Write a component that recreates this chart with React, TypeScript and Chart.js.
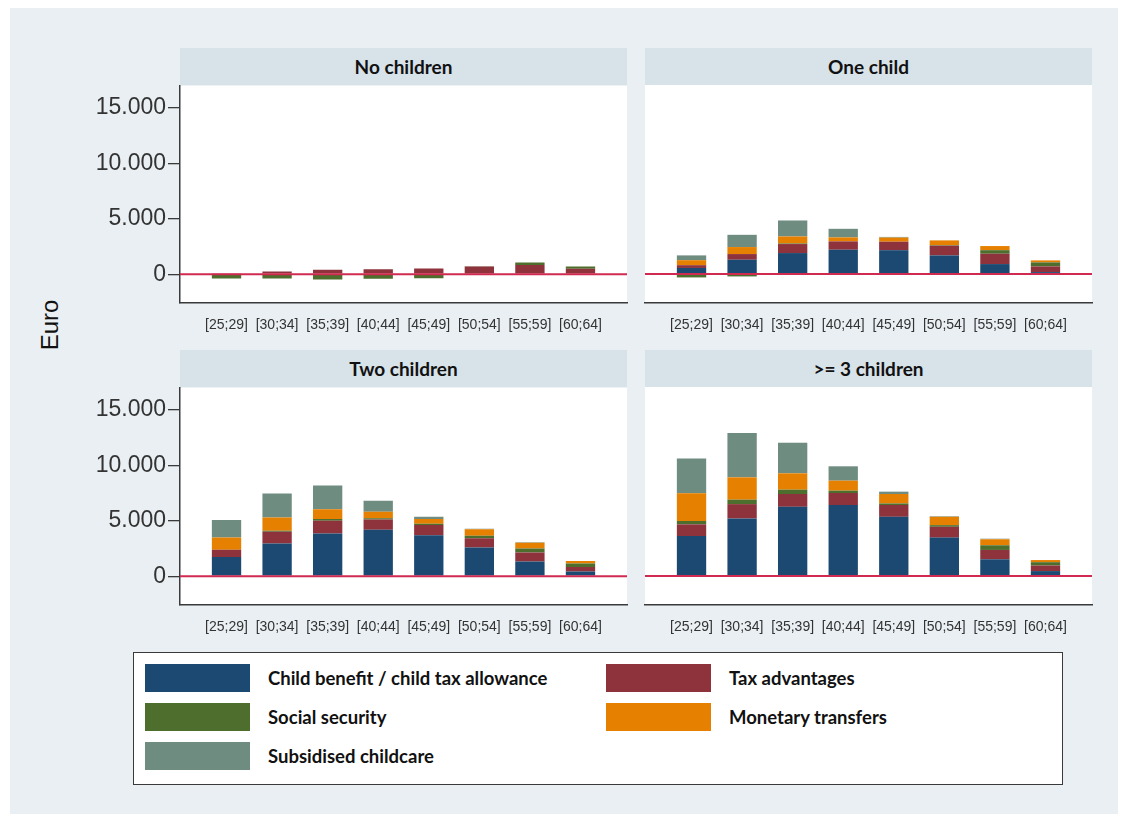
import React, { useEffect, useRef } from "react";
import { Chart, registerables } from "chart.js";

Chart.register(...registerables);

// ---------- data ----------
const AGE_GROUPS = ["[25;29]", "[30;34]", "[35;39]", "[40;44]", "[45;49]", "[50;54]", "[55;59]", "[60;64]"];
const SERIES_NAMES = [
  "Child benefit / child tax allowance",
  "Tax advantages",
  "Social security",
  "Monetary transfers",
  "Subsidised childcare",
];
const SERIES_COLORS = ["#1b4972", "#8e323c", "#4e6e2d", "#e68000", "#6f8c80"];
const Y_TICKS = [0, 5000, 10000, 15000];
const Y_MIN = -2600;
const Y_MAX = 17000;

// No children
const NONE_BENEFIT = [0, 0, 0, 0, 0, 0, 0, 0];
const NONE_TAX = [50, 240, 390, 450, 510, 690, 840, 480];
const NONE_SOCIAL = [-400, -380, -480, -420, -360, 30, 210, 210];
const NONE_MONETARY = [0, 0, 0, 0, 0, 0, 0, 0];
const NONE_CHILDCARE = [0, 0, 0, 0, 0, 0, 0, 0];

// One child
const ONE_BENEFIT = [550, 1290, 1890, 2190, 2150, 1680, 900, 180];
const ONE_TAX = [250, 510, 810, 750, 760, 870, 930, 510];
const ONE_SOCIAL = [-300, -210, 50, 0, 0, 50, 320, 360];
const ONE_MONETARY = [450, 630, 630, 360, 370, 430, 370, 180];
const ONE_CHILDCARE = [430, 1100, 1440, 770, 60, 0, 0, 0];

// Two children
const TWO_BENEFIT = [1740, 2950, 3850, 4180, 3700, 2590, 1320, 420];
const TWO_TAX = [640, 1050, 1150, 940, 930, 840, 820, 420];
const TWO_SOCIAL = [0, 100, 150, 100, 100, 210, 360, 300];
const TWO_MONETARY = [1110, 1200, 900, 590, 420, 600, 510, 240];
const TWO_CHILDCARE = [1570, 2170, 2140, 990, 210, 50, 50, 0];

// >= 3 children
const THREE_BENEFIT = [3600, 5180, 6230, 6390, 5330, 3460, 1510, 450];
const THREE_TAX = [1050, 1290, 1150, 1080, 1060, 970, 840, 500];
const THREE_SOCIAL = [300, 400, 390, 210, 140, 150, 420, 300];
const THREE_MONETARY = [2500, 2010, 1470, 900, 850, 750, 540, 190];
const THREE_CHILDCARE = [3130, 3980, 2750, 1290, 210, 50, 50, 0];

// ---------- layout ----------
const PLOT_W = 447;
const PLOT_H = 218;
const HEADER_H = 37;
const PAD_TOP = 15;
const XAXIS_H = 37;
const AXIS_COLOR = "#3a3a3a";
const SANS = '"Liberation Sans", Arial, sans-serif';
const LABEL_FONT = 'Lato, "Open Sans", sans-serif';

const PANELS = [
  { title: "No children", series: [NONE_BENEFIT, NONE_TAX, NONE_SOCIAL, NONE_MONETARY, NONE_CHILDCARE], plotLeft: 180, plotTop: 85, showY: true },
  { title: "One child", series: [ONE_BENEFIT, ONE_TAX, ONE_SOCIAL, ONE_MONETARY, ONE_CHILDCARE], plotLeft: 645, plotTop: 85, showY: false },
  { title: "Two children", series: [TWO_BENEFIT, TWO_TAX, TWO_SOCIAL, TWO_MONETARY, TWO_CHILDCARE], plotLeft: 180, plotTop: 387, showY: true },
  { title: ">= 3 children", series: [THREE_BENEFIT, THREE_TAX, THREE_SOCIAL, THREE_MONETARY, THREE_CHILDCARE], plotLeft: 645, plotTop: 387, showY: false },
];

const fmt = (v: number) => String(v).replace(/\B(?=(\d{3})+(?!\d))/g, ".");

const decoPlugin = {
  id: "panelDeco",
  beforeDraw(chart: any) {
    const { ctx, chartArea: a } = chart;
    ctx.save();
    ctx.fillStyle = "#ffffff";
    ctx.fillRect(a.left, a.top, a.right - a.left, a.bottom - a.top);
    ctx.restore();
  },
  afterDatasetsDraw(chart: any) {
    const { ctx, chartArea: a } = chart;
    const y = chart.scales.y.getPixelForValue(0);
    ctx.save();
    ctx.strokeStyle = "#d02a50";
    ctx.lineWidth = 2;
    ctx.beginPath();
    ctx.moveTo(a.left, y);
    ctx.lineTo(a.right, y);
    ctx.stroke();
    ctx.restore();
  },
};

function Panel({ title, series, plotLeft, plotTop, showY }: any) {
  const ref = useRef<HTMLCanvasElement>(null);
  const yAxisW = showY ? 160 : 0;
  const padLeft = showY ? 0 : 5;
  const padRight = 3;
  const canvasLeft = plotLeft - yAxisW - padLeft;
  const canvasTop = plotTop - PAD_TOP;
  const canvasW = padLeft + yAxisW + PLOT_W + padRight;
  const canvasH = PAD_TOP + PLOT_H + XAXIS_H;

  useEffect(() => {
    if (!ref.current) return;
    const chart = new Chart(ref.current, {
      type: "bar",
      data: {
        datasets: SERIES_NAMES.map((name, k) => ({
          label: name,
          data: series[k].map((v: number, i: number) => ({ x: i, y: v })),
          backgroundColor: SERIES_COLORS[k],
          borderWidth: 0,
          barPercentage: 0.58,
          categoryPercentage: 1,
          stack: "s",
        })),
      },
      options: {
        animation: false,
        responsive: false,
        layout: { padding: { top: PAD_TOP, left: padLeft, right: padRight, bottom: 0 } },
        plugins: { legend: { display: false }, tooltip: { enabled: false } },
        scales: {
          x: {
            type: "linear",
            min: -0.92,
            max: 7.92,
            offset: false,
            stacked: true,
            afterBuildTicks: (s: any) => {
              s.ticks = AGE_GROUPS.map((_, i) => ({ value: i }));
            },
            afterFit: (s: any) => {
              s.height = XAXIS_H;
            },
            grid: { display: false },
            border: { display: true, color: AXIS_COLOR, width: 1.5 },
            ticks: {
              autoSkip: false,
              maxRotation: 0,
              padding: 6,
              color: "#333333",
              font: { family: SANS, size: 14 },
              callback: (v: any) => AGE_GROUPS[v] ?? "",
            },
          },
          y: {
            type: "linear",
            display: showY,
            min: Y_MIN,
            max: Y_MAX,
            stacked: true,
            afterBuildTicks: (s: any) => {
              s.ticks = Y_TICKS.map((v) => ({ value: v }));
            },
            afterFit: (s: any) => {
              s.width = yAxisW;
            },
            grid: { drawOnChartArea: false, drawTicks: true, tickLength: 12, color: AXIS_COLOR, lineWidth: 1.3 },
            border: { display: true, color: AXIS_COLOR, width: 1.5 },
            ticks: {
              padding: 2,
              color: "#333333",
              font: { family: SANS, size: 23 },
              callback: (v: any) => fmt(v),
            },
          },
        },
      } as any,
      plugins: [decoPlugin],
    });
    return () => chart.destroy();
  }, []);

  return (
    <>
      <div
        style={{
          position: "absolute",
          left: plotLeft,
          top: plotTop - HEADER_H,
          width: PLOT_W,
          height: HEADER_H,
          background: "#d7e2e9",
          display: "flex",
          alignItems: "center",
          justifyContent: "center",
          fontFamily: LABEL_FONT,
          fontWeight: 700,
          fontSize: 19,
          color: "#111",
        }}
      >
        {title}
      </div>
      <canvas
        ref={ref}
        width={canvasW}
        height={canvasH}
        style={{ position: "absolute", left: canvasLeft, top: canvasTop, width: canvasW, height: canvasH }}
      />
    </>
  );
}

const LEGEND_POS = [
  { left: 145, top: 664 },
  { left: 606, top: 664 },
  { left: 145, top: 703 },
  { left: 606, top: 703 },
  { left: 145, top: 742 },
];

export default function App() {
  return (
    <div style={{ position: "fixed", left: 0, top: 0, width: 1126, height: 818, background: "#ffffff", overflow: "hidden" }}>
      <div style={{ position: "absolute", left: 10, top: 8, width: 1108, height: 806, background: "#e9eff2" }} />
      <div
        style={{
          position: "absolute",
          left: 50,
          top: 325,
          transform: "translate(-50%, -50%) rotate(-90deg)",
          fontFamily: SANS,
          fontSize: 24,
          color: "#111",
          whiteSpace: "nowrap",
        }}
      >
        Euro
      </div>
      {PANELS.map((p) => (
        <Panel key={p.title} {...p} />
      ))}
      <div
        style={{
          position: "absolute",
          left: 133,
          top: 652,
          width: 930,
          height: 133,
          boxSizing: "border-box",
          background: "#ffffff",
          border: "1.5px solid #3a3a3a",
        }}
      />
      {SERIES_NAMES.map((name, k) => (
        <div
          key={name}
          style={{ position: "absolute", left: LEGEND_POS[k].left, top: LEGEND_POS[k].top, height: 28, display: "flex", alignItems: "center" }}
        >
          <div style={{ width: 105, height: 28, background: SERIES_COLORS[k] }} />
          <div
            style={{
              marginLeft: 18,
              fontFamily: LABEL_FONT,
              fontWeight: 700,
              fontSize: 18.5,
              color: "#111",
              whiteSpace: "nowrap",
            }}
          >
            {name}
          </div>
        </div>
      ))}
    </div>
  );
}
